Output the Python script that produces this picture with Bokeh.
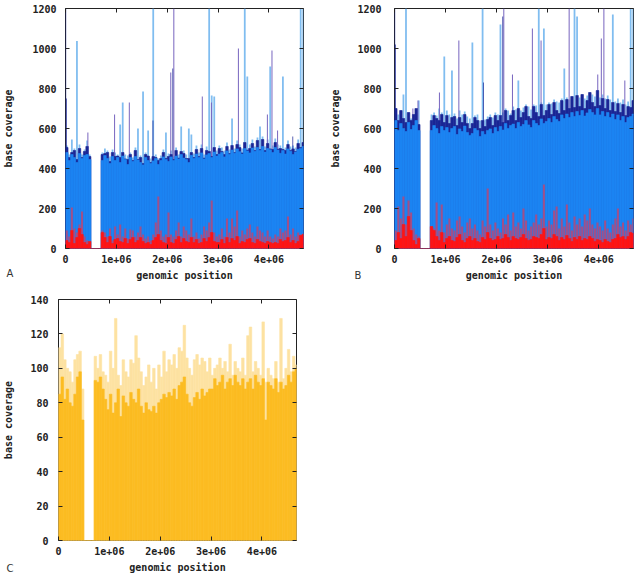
import numpy as np
from bokeh.plotting import figure
from bokeh.models import Range1d, LinearAxis, FixedTicker, Label
from bokeh.layouts import column, row
from bokeh.embed import file_html
from bokeh.resources import INLINE

BIN = 50000
XMAX = 4.68e6
x_ticks = [0, 1000000, 2000000, 3000000, 4000000]
x_tick_labels = ["0", "1e+06", "2e+06", "3e+06", "4e+06"]

# ---------------- Panel A ----------------
a_cov = [480, 440, 470, 455, 430, 475, 450, 465, 470, 445,
         0, 0, 0, 0,
         440, 465, 450, 425, 460, 440, 455, 430, 462, 445, 420, 455, 435, 460, 442, 430, 418, 455, 440, 425, 438, 450, 420, 440, 458, 445,
         435, 458, 440, 462, 448, 470, 452, 445, 430, 466, 450, 472, 455, 478, 448, 468, 475, 455, 482, 462,
         472, 480, 458, 488, 470, 492, 476, 498, 484, 472, 500, 488, 478, 502, 486, 505, 490, 510, 482, 500, 494, 480, 505, 492, 476, 490, 472, 498, 486, 470, 482, 496, 500, 510]
a_dark = [505, 455, 480, 490, 445, 500, 455, 485, 510, 460,
          0, 0, 0, 0,
          470, 475, 480, 435, 480, 460, 462, 455, 480, 448, 445, 470, 440, 490, 445, 455, 425, 470, 462, 430, 460, 455, 440, 450, 480, 450,
          460, 470, 445, 490, 452, 485, 475, 450, 450, 480, 455, 495, 460, 500, 452, 490, 485, 460, 505, 470,
          500, 485, 470, 510, 475, 515, 480, 520, 505, 478, 530, 492, 500, 525, 490, 540, 495, 545, 490, 525, 498, 495, 530, 496, 500, 495, 490, 520, 490, 498, 485, 525, 505, 530]
a_light = [515, 470, 545, 500, 1037, 520, 470, 495, 540, 470,
           0, 0, 0, 0,
           480, 500, 490, 460, 495, 480, 470, 620, 730, 470, 465, 480, 455, 505, 600, 465, 785, 480, 590, 450, 1200, 470, 450, 465, 495, 580,
           475, 490, 460, 505, 470, 610, 490, 470, 600, 570, 475, 515, 480, 520, 470, 510, 1200, 765, 760, 490,
           515, 505, 490, 530, 495, 650, 500, 540, 520, 500, 1200, 860, 520, 545, 510, 555, 610, 560, 510, 545, 910, 515, 550, 520, 515, 860, 505, 540, 510, 515, 505, 545, 1200, 1200]
a_purple_x = [440000, 965000, 1255000, 2070000, 2130000, 2690000, 2870000, 3400000, 3970000, 4060000, 4170000]
a_purple_y = [580, 670, 730, 880, 1200, 760, 730, 1000, 670, 990, 590]
a_navy_x = [6000, 16000, 1720000, 2110000, 4470000]
a_navy_y = [1200, 750, 640, 900, 560]
a_mauve = [90, 60, 205, 100, 80, 120, 185, 60, 40, 35,
           0, 0, 0, 0,
           90, 80, 60, 100, 40, 110, 70, 120, 60, 100, 50, 95, 90, 60, 80, 110, 70, 50, 60, 40, 70, 130, 260, 90, 60, 70,
           180, 70, 60, 90, 130, 60, 110, 90, 70, 150, 60, 80, 50, 70, 110, 90, 130, 240, 80, 60,
           70, 100, 60, 150, 80, 150, 110, 190, 60, 90, 70, 100, 120, 80, 60, 110, 90, 80, 60, 90, 60, 50, 70, 60, 100, 80, 90, 160, 70, 100, 60, 80, 70, 75]
a_red = [40, 30, 90, 25, 55, 100, 70, 30, 20, 35,
         0, 0, 0, 0,
         80, 55, 30, 60, 25, 45, 50, 35, 30, 50, 25, 45, 55, 30, 40, 55, 35, 25, 30, 20, 40, 55, 70, 40, 30, 25,
         55, 30, 25, 45, 60, 30, 50, 35, 30, 55, 30, 45, 25, 30, 50, 35, 55, 80, 35, 30,
         30, 45, 25, 55, 30, 50, 40, 60, 25, 35, 30, 45, 50, 30, 25, 45, 35, 30, 25, 35, 30, 25, 30, 25, 45, 35, 40, 55, 30, 40, 25, 35, 65, 70]

# ---------------- Panel B ----------------
b_cov = [640, 590, 625, 600, 585, 630, 595, 615, 640, 590,
         0, 0, 0, 0,
         590, 615, 600, 575, 610, 590, 605, 580, 600, 610, 570, 598, 585, 612, 580, 565, 575, 600, 590, 560, 585, 570, 590, 598, 575, 605,
         585, 610, 592, 625, 600, 615, 622, 600, 630, 610, 620, 640, 618, 605, 640, 625, 615, 648, 625, 635,
         650, 630, 660, 645, 635, 668, 650, 672, 655, 680, 660, 685, 665, 690, 662, 678, 695, 680, 668, 700, 668, 685, 660, 680, 655, 672, 645, 668, 640, 660, 630, 655, 660, 672]
b_dark = [700, 640, 690, 650, 630, 680, 640, 670, 700, 620,
          0, 0, 0, 0,
          640, 665, 650, 640, 670, 630, 665, 625, 655, 660, 615, 655, 630, 670, 625, 600, 625, 655, 640, 600, 640, 610, 645, 655, 615, 665,
          640, 665, 630, 690, 640, 665, 690, 640, 700, 655, 680, 710, 660, 650, 710, 680, 660, 720, 665, 690,
          720, 670, 730, 690, 675, 740, 690, 745, 700, 760, 705, 765, 710, 770, 700, 740, 780, 730, 710, 790, 715, 750, 700, 745, 690, 730, 685, 725, 680, 720, 665, 710, 705, 740]
b_light = [700, 670, 690, 770, 1200, 680, 650, 665, 690, 740,
           0, 0, 0, 0,
           670, 680, 665, 700, 680, 960, 690, 670, 890, 675, 650, 690, 670, 685, 660, 650, 1030, 665, 670, 640, 1200, 645, 660, 670, 655, 680,
           670, 1120, 680, 700, 690, 675, 710, 695, 840, 690, 705, 720, 710, 695, 720, 715, 1200, 730, 1100, 720,
           730, 725, 745, 735, 730, 750, 900, 755, 745, 760, 1200, 1160, 755, 770, 750, 765, 780, 770, 760, 790, 755, 770, 750, 765, 745, 1170, 735, 750, 730, 745, 720, 735, 1200, 1200]
b_purple_x = [360000, 460000, 880000, 1260000, 2140000, 2310000, 2700000, 2870000, 3420000, 3980000, 4050000, 4100000, 4510000]
b_purple_y = [700, 740, 780, 1040, 1200, 870, 1100, 1040, 1200, 870, 1050, 1200, 840]
b_navy_x = [6000, 16000, 1740000, 2120000]
b_navy_y = [1200, 1020, 830, 1160]
b_mauve = [90, 210, 150, 260, 120, 240, 180, 100, 70, 60,
           0, 0, 0, 0,
           110, 100, 230, 90, 220, 80, 120, 150, 100, 90, 140, 160, 110, 80, 130, 150, 100, 120, 90, 70, 140, 110, 300, 120, 90, 130,
           100, 80, 150, 120, 170, 90, 180, 110, 130, 100, 200, 140, 90, 110, 130, 170, 120, 150, 320, 110,
           140, 120, 190, 210, 100, 150, 110, 220, 130, 90, 160, 120, 150, 110, 170, 140, 200, 120, 100, 130, 110, 90, 140, 100, 80, 120, 150, 200, 110, 130, 90, 140, 120, 150]
b_red = [40, 80, 50, 120, 60, 160, 90, 40, 20, 50,
         0, 0, 0, 0,
         110, 90, 60, 40, 80, 30, 50, 60, 40, 35, 55, 70, 40, 30, 50, 60, 40, 50, 35, 30, 55, 45, 80, 50, 40, 45,
         60, 45, 50, 70, 55, 40, 60, 50, 45, 55, 70, 50, 40, 45, 60, 55, 50, 70, 100, 45,
         55, 50, 70, 60, 40, 55, 45, 65, 50, 35, 55, 45, 60, 40, 50, 45, 60, 50, 35, 45, 40, 30, 45, 35, 30, 45, 50, 70, 55, 60, 45, 60, 80, 75]

# ---------------- Panel C ----------------
c_cov = [85, 95, 82, 88, 80, 78, 85, 95, 98, 70,
         0, 0, 0, 0,
         93, 92, 95, 88, 82, 76, 85, 74, 80, 88, 72, 84, 80, 78, 86, 82, 80, 88, 78, 74, 80, 76, 75, 78, 74, 80,
         82, 85, 83, 86, 84, 88, 82, 90, 92, 95, 85, 80, 78, 83, 86, 82, 88, 84, 86, 88,
         88, 94, 90, 92, 96, 88, 92, 94, 90, 96, 92, 90, 94, 88, 92, 94, 88, 96, 92, 90, 94, 70, 92, 90, 88, 94, 86, 92, 88, 90, 96, 92, 98, 100]
c_light = [112, 120, 105, 100, 98, 92, 105, 108, 110, 88,
           0, 0, 0, 0,
           107, 100, 108, 98, 96, 92, 110, 100, 129, 96, 90, 105, 98, 95, 105, 103, 119, 106, 98, 90, 95, 102, 92, 100, 88, 102,
           95, 110, 98, 105, 102, 108, 100, 112, 110, 125, 106, 100, 96, 105, 108, 102, 106, 104, 98, 106,
           96, 100, 102, 106, 100, 104, 98, 114, 96, 104, 100, 98, 106, 96, 119, 124, 98, 104, 100, 96, 127, 92, 100, 96, 94, 104, 92, 129, 94, 100, 111, 98, 107, 102]

C_LIGHT_BLUE = "#80bdf0"
C_BLUE = "#1c84f2"
C_NAVY = "#1a2696"
C_PURPLE = "#7a68c0"
C_MAUVE = "#a0508a"
C_RED = "#ff1414"
C_ORANGE = "#fcbc22"
C_LIGHT_ORANGE = "#fde2a2"

FONT = "DejaVu Sans Mono"
TXT = "#222222"


def style(p, yticks, tick_standoff_y, label_standoff_y):
    p.grid.visible = False
    p.outline_line_color = "#222222"
    p.outline_line_width = 1
    p.background_fill_color = "white"
    p.border_fill_color = "white"
    p.xaxis.ticker = FixedTicker(ticks=x_ticks)
    p.xaxis.major_label_overrides = dict(zip(x_ticks, x_tick_labels))
    p.yaxis.ticker = FixedTicker(ticks=yticks)
    for ax in (p.xaxis[0], p.yaxis[0]):
        ax.axis_line_color = None
        ax.major_tick_in = 4
        ax.major_tick_out = 0
        ax.major_tick_line_color = TXT
        ax.minor_tick_line_color = None
        ax.major_label_text_font = FONT
        ax.major_label_text_font_style = "bold"
        ax.major_label_text_font_size = "10px"
        ax.major_label_text_color = TXT
        ax.axis_label_text_font = FONT
        ax.axis_label_text_font_style = "bold"
        ax.axis_label_text_font_size = "10px"
        ax.axis_label_text_color = TXT
    p.xaxis.axis_label = "genomic position"
    p.yaxis.axis_label = "base coverage"
    p.xaxis.major_label_standoff = 6
    p.xaxis.axis_label_standoff = 4
    p.yaxis.major_label_standoff = tick_standoff_y
    p.yaxis.axis_label_standoff = label_standoff_y
    # mirror ticks on top and right (no labels)
    for place, tk in (("above", x_ticks), ("right", yticks)):
        ax = LinearAxis(ticker=FixedTicker(ticks=tk))
        ax.axis_line_color = None
        ax.major_tick_in = 4
        ax.major_tick_out = 0
        ax.major_tick_line_color = TXT
        ax.minor_tick_line_color = None
        ax.major_label_text_font_size = "1px"
        ax.major_label_text_color = None
        ax.major_label_standoff = 0
        p.add_layout(ax, place)


def make(width, height, ml, mr, mt, mb, ymax):
    return figure(width=width, height=height, x_range=Range1d(0, XMAX), y_range=Range1d(0, ymax),
                  output_backend="svg", toolbar_location=None,
                  min_border_left=ml, min_border_right=mr, min_border_top=mt, min_border_bottom=mb)


def bars(p, left, top, color):
    p.quad(left=left, right=left + BIN, bottom=0, top=top, fill_color=color,
           line_color=color, line_width=0.6)


def coverage_panel(p, cov, dark, light, pur_x, pur_y, navy_x, navy_y, mauve, red):
    n = len(cov)
    left = np.arange(n) * BIN
    centers = left + BIN / 2
    p.vbar(x=centers, top=light, width=BIN * 0.7, bottom=0, color=C_LIGHT_BLUE, line_width=0)
    p.vbar(x=pur_x, top=pur_y, width=20000, bottom=0, color=C_PURPLE, line_width=0)
    p.vbar(x=navy_x, top=navy_y, width=14000, bottom=0, color=C_NAVY, line_width=0)
    bars(p, left, dark, C_NAVY)
    bars(p, left, cov, C_BLUE)
    p.vbar(x=centers, top=mauve, width=BIN * 0.8, bottom=0, color=C_MAUVE, line_width=0)
    bars(p, left, red, C_RED)


def letter(p, txt, x, y, place):
    p.add_layout(Label(x=x, y=y, x_units="screen", y_units="screen", text=txt,
                       text_baseline="middle", text_font="DejaVu Sans", text_font_size="10px",
                       text_color="#333333"), place)


yt_big = [0, 200, 400, 600, 800, 1000, 1200]
yt_c = [0, 20, 40, 60, 80, 100, 120, 140]

pA = make(320, 290, 62, 17, 8, 42, 1200)
coverage_panel(pA, a_cov, a_dark, a_light, a_purple_x, a_purple_y, a_navy_x, a_navy_y, a_mauve, a_red)
style(pA, yt_big, 9, 15)
letter(pA, "A", -297, -25, "right")

pB = make(319, 290, 73, 6, 8, 42, 1200)
coverage_panel(pB, b_cov, b_dark, b_light, b_purple_x, b_purple_y, b_navy_x, b_navy_y, b_mauve, b_red)
style(pB, yt_big, 13, 13)
letter(pB, "B", 34, -27, "left")

pC = make(320, 286, 55, 24, 9, 36, 140)
nC = len(c_cov)
leftC = np.arange(nC) * BIN
bars(pC, leftC, c_light, C_LIGHT_ORANGE)
bars(pC, leftC, c_cov, C_ORANGE)
style(pC, yt_c, 10, 13)
letter(pC, "C", -290, -28, "right")

layout = column(row(pA, pB), row(pC))
open("out.html", "w").write(file_html(layout, INLINE))
